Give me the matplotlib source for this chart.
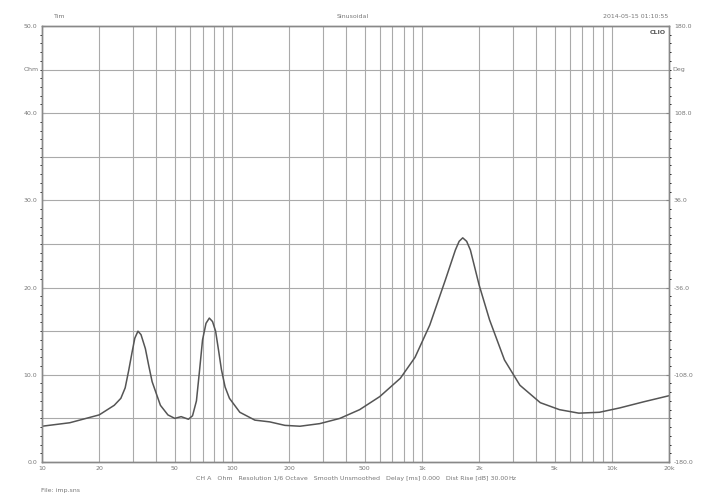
import matplotlib
matplotlib.use("Agg")
import matplotlib.pyplot as plt
import numpy as np

freq = [10, 14, 20, 24, 26, 27.4, 28.6, 29.8, 30.8, 32, 33.2, 35, 36.5, 38, 42, 46, 50, 54, 59, 62, 65, 67.5, 70, 73, 76, 79, 82, 85, 88, 92, 97,
        110, 132, 158, 190, 228, 290, 370, 470, 600, 770, 920, 1100, 1330, 1500, 1570, 1640, 1720, 1800,
        2000, 2270, 2720, 3280, 4200, 5300, 6700, 8600, 11000, 14700, 20000]
ohm = [4.1, 4.5, 5.4, 6.5, 7.3, 8.5, 10.5, 12.6, 14.2, 15.0, 14.6, 13.0, 11.0, 9.2, 6.5, 5.4, 5.0, 5.2, 4.9, 5.3, 7.0, 10.5, 14.0, 15.9, 16.5, 16.1, 15.0, 12.8, 10.6, 8.6, 7.3,
       5.7, 4.8, 4.6, 4.2, 4.1, 4.4, 5.0, 6.0, 7.5, 9.6, 12.0, 15.7, 20.9, 24.3, 25.3, 25.7, 25.3, 24.3,
       20.3, 16.3, 11.7, 8.8, 6.8, 6.0, 5.6, 5.7, 6.2, 6.9, 7.6]
xticks = [10, 20, 50, 100, 200, 500, 1000, 2000, 5000, 10000, 20000]
xticklabels = ["10", "20", "50", "100", "200", "500", "1k", "2k", "5k", "10k", "20k"]
yticks = [0, 10, 20, 30, 40, 50]
ylabels = ["0.0", "10.0", "20.0", "30.0", "40.0", "50.0"]
rlabels = ["-180.0", "-108.0", "-36.0", "36.0", "108.0", "180.0"]

tc = "#777777"
fig = plt.figure(figsize=(7.05, 4.98), dpi=100)
ax = fig.add_axes([0.0596, 0.0723, 0.8894, 0.8757])
ax.set_xscale("log")
ax.set_xlim(10, 20000)
ax.set_ylim(0, 50)
grid = [d * m for m in (10, 100, 1000) for d in range(1, 10)] + [10000, 20000]
for g in sorted(set(grid)):
    if 10 < g < 20000:
        ax.axvline(g, color="#aaaaaa", lw=0.8)
for g in range(5, 50, 5):
    ax.axhline(g, color="#aaaaaa", lw=0.8)
ax.plot(freq, ohm, color="#555555", lw=1.1)
ax.set_xticks(xticks)
ax.set_xticklabels(xticklabels)
ax.xaxis.set_minor_locator(matplotlib.ticker.NullLocator())
ax.set_yticks(yticks)
ax.set_yticklabels(ylabels)
ax.set_yticks(np.arange(0, 51, 1), minor=True)
ax.tick_params(axis="both", labelsize=4.5, labelcolor=tc, colors="#888888", length=2, direction="in")
ax.tick_params(axis="x", length=0, pad=3)
ax.tick_params(axis="y", which="minor", length=1.5)
ax2 = ax.twinx()
ax2.set_ylim(0, 50)
ax2.set_yticks(yticks)
ax2.set_yticklabels(rlabels)
ax2.set_yticks(np.arange(0, 51, 1), minor=True)
ax2.tick_params(axis="y", labelsize=4.5, labelcolor=tc, colors="#888888", length=2, direction="in")
ax2.tick_params(axis="y", which="minor", length=1.5)
for a in (ax, ax2):
    for s in a.spines.values():
        s.set_color("#888888")
        s.set_linewidth(1.0)
fs = 4.5
ax.text(-0.005, 0.9, "Ohm", transform=ax.transAxes, ha="right", va="center", fontsize=fs, color=tc)
ax.text(1.005, 0.9, "Deg", transform=ax.transAxes, ha="left", va="center", fontsize=fs, color=tc)
ax.text(3000, -1.6, "Hz", ha="center", va="top", fontsize=fs, color=tc)
ax.text(0.995, 0.99, "CLIO", transform=ax.transAxes, ha="right", va="top", fontsize=4.5, color="#555555", fontweight="bold")
fig.text(0.085, 0.966, "Tim", ha="center", va="center", fontsize=fs, color=tc)
fig.text(0.5, 0.966, "Sinusoidal", ha="center", va="center", fontsize=fs, color=tc)
fig.text(0.948, 0.966, "2014-05-15 01:10:55", ha="right", va="center", fontsize=fs, color=tc)
fig.text(0.5, 0.04, "CH A   Ohm   Resolution 1/6 Octave   Smooth Unsmoothed   Delay [ms] 0.000   Dist Rise [dB] 30.00",
         ha="center", va="center", fontsize=fs, color=tc)
fig.text(0.058, 0.016, "File: imp.sns", ha="left", va="center", fontsize=fs, color=tc)
fig.savefig("out.png", dpi=100)
